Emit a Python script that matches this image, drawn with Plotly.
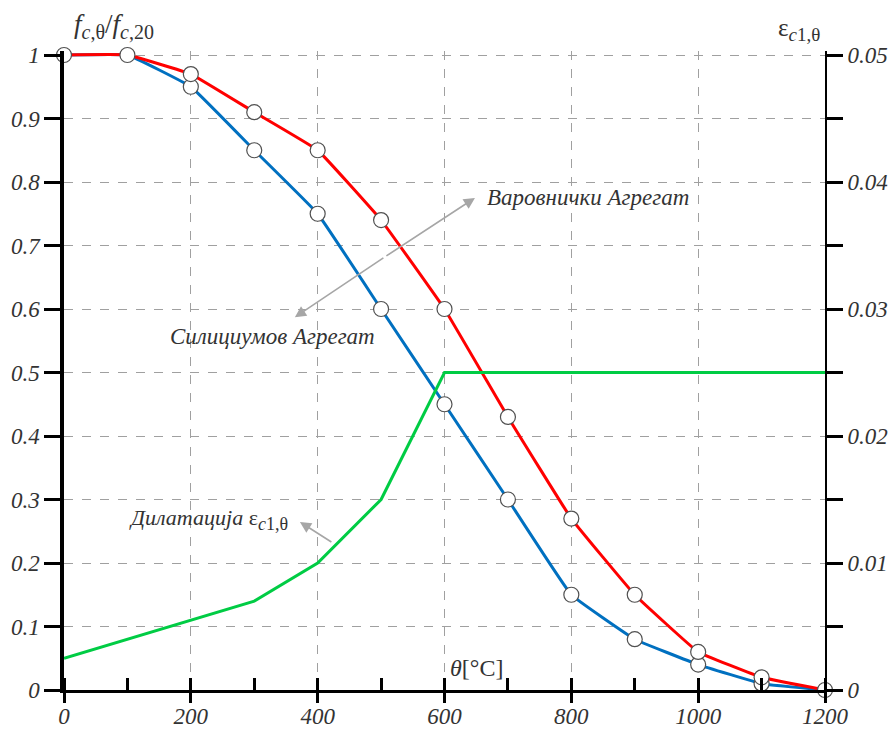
import plotly.graph_objects as go

temps = [0, 100, 200, 300, 400, 500, 600, 700, 800, 900, 1000, 1100, 1200]
siliceous = [1.0, 1.0, 0.95, 0.85, 0.75, 0.60, 0.45, 0.30, 0.15, 0.08, 0.04, 0.01, 0.0]
calcareous = [1.0, 1.0, 0.97, 0.91, 0.85, 0.74, 0.60, 0.43, 0.27, 0.15, 0.06, 0.02, 0.0]
strain_temps = [0, 100, 200, 300, 400, 500, 600, 700, 800, 900, 1000, 1100, 1200]
strain = [0.0025, 0.004, 0.0055, 0.007, 0.010, 0.015, 0.025, 0.025, 0.025, 0.025, 0.025, 0.025, 0.025]

x_ticks = [0, 200, 400, 600, 800, 1000, 1200]
x_tick_text = ["0", "200", "400", "600", "800", "1000", "1200"]
y_ticks = [0, 0.1, 0.2, 0.3, 0.4, 0.5, 0.6, 0.7, 0.8, 0.9, 1.0]
y_tick_text = ["0", "0.1", "0.2", "0.3", "0.4", "0.5", "0.6", "0.7", "0.8", "0.9", "1"]
y2_ticks = [0, 0.005, 0.01, 0.015, 0.02, 0.025, 0.03, 0.035, 0.04, 0.045, 0.05]
y2_tick_text = ["0", "", "0.01", "", "0.02", "", "0.03", "", "0.04", "", "0.05"]

FONT = "Liberation Serif"
BLUE = "#0070C0"
RED = "#FF0000"
GREEN = "#00CC44"

# small headroom so lines at y=1 are not clipped
Y_TOP = 639 / 635
Y2_TOP = 0.05 * Y_TOP

fig = go.Figure()

fig.add_trace(go.Scatter(x=temps, y=siliceous, mode="lines",
                         line=dict(color=BLUE, width=3, shape="spline", smoothing=0.25),
                         showlegend=False, cliponaxis=False))
fig.add_trace(go.Scatter(x=strain_temps, y=strain, mode="lines", yaxis="y2",
                         line=dict(color=GREEN, width=3),
                         showlegend=False, cliponaxis=False))
fig.add_trace(go.Scatter(x=temps, y=calcareous, mode="lines",
                         line=dict(color=RED, width=3, shape="spline", smoothing=0.25),
                         showlegend=False, cliponaxis=False))
marker = dict(symbol="circle", size=15, color="white", line=dict(color="#505050", width=1.2))
fig.add_trace(go.Scatter(x=temps[2:12], y=siliceous[2:12], mode="markers", marker=marker,
                         showlegend=False, cliponaxis=False))
fig.add_trace(go.Scatter(x=temps, y=calcareous, mode="markers", marker=marker,
                         showlegend=False, cliponaxis=False))

tickfont = dict(family=FONT, size=23, color="#333333")

def it(labels):
    return ["<i>" + t + "</i>" if t else "" for t in labels]

fig.update_layout(
    width=893, height=729,
    margin=dict(l=64, r=68, t=51, b=39),
    paper_bgcolor="white", plot_bgcolor="white",
    font=dict(family=FONT, color="#333333"),
    xaxis=dict(range=[0, 1200], tickvals=x_ticks, ticktext=it(x_tick_text),
               ticks="outside", ticklen=10, tickwidth=2.5, automargin=False,
               ticklabelstandoff=-7,
               tickcolor="black", showline=True, linecolor="black", linewidth=3,
               showgrid=True, gridcolor="#A0A0A0", griddash="dash", gridwidth=1,
               zeroline=False, tickfont=tickfont,
               minor=dict(dtick=100, ticks="inside", ticklen=12, tickwidth=2.5, tickcolor="black",
                          showgrid=False)),
    yaxis=dict(range=[0, Y_TOP], tickvals=y_ticks, ticktext=it(y_tick_text), automargin=False,
               ticks="outside", ticklen=16, tickwidth=3, tickcolor="black",
               showline=True, linecolor="black", linewidth=3.5,
               showgrid=True, gridcolor="#A0A0A0", griddash="dash", gridwidth=1,
               zeroline=False, tickfont=tickfont),
    yaxis2=dict(range=[0, Y2_TOP], overlaying="y", side="right", anchor="x", automargin=False,
                tickvals=y2_ticks, ticktext=it(y2_tick_text),
                ticks="outside", ticklen=16, tickwidth=2.5, tickcolor="black",
                showline=True, linecolor="black", linewidth=2,
                showgrid=False, zeroline=False, tickfont=tickfont),
)

ann_font = dict(family=FONT, size=23, color="#333333")
fig.add_annotation(xref="paper", yref="paper", x=0.066, y=1.0391, xanchor="center", yanchor="middle",
                   text="<i>f</i><sub><span style='font-size:20px'><i>c</i>,θ</span></sub>/<i>f</i>"
                        "<sub><span style='font-size:20px'><i>c</i>,20</span></sub>",
                   showarrow=False, font=dict(family=FONT, size=27, color="#333333"))
fig.add_annotation(xref="paper", yref="paper", x=0.966, y=1.0344, xanchor="center", yanchor="middle",
                   text="ε<sub><span style='font-size:19px'><i>c</i>1,θ</span></sub>",
                   showarrow=False, font=dict(family=FONT, size=25, color="#333333"))
fig.add_annotation(x=651, y=0.035, xanchor="center", yanchor="middle",
                   text="<i>θ</i>[°C]", showarrow=False,
                   font=dict(family=FONT, size=24, color="#333333"))

fig.add_annotation(x=664, y=0.775, xanchor="left", yanchor="middle",
                   text="<i>Варовнички Агрегат</i>", showarrow=False, font=ann_font)
fig.add_annotation(x=328, y=0.556, xanchor="center", yanchor="middle",
                   text="<i>Силициумов Агрегат</i>", showarrow=False, font=ann_font)
fig.add_annotation(x=99, y=0.269, xanchor="left", yanchor="middle",
                   text="<i>Дилатација</i> ε<sub><span style='font-size:18px'><i>c</i>1,θ</span></sub>",
                   showarrow=False, font=dict(family=FONT, size=22, color="#333333"))

arrow = dict(showarrow=True, arrowhead=2, arrowsize=1.4, arrowwidth=1.6, arrowcolor="#A6A6A6",
             axref="x", ayref="y", text="")
fig.add_annotation(x=648, y=0.775, ax=506, ay=0.682, **arrow)
fig.add_annotation(x=364, y=0.587, ax=506, ay=0.682, **arrow)
fig.add_annotation(x=372, y=0.2646, ax=424, ay=0.2315, **arrow)

fig.write_html("out.html")
